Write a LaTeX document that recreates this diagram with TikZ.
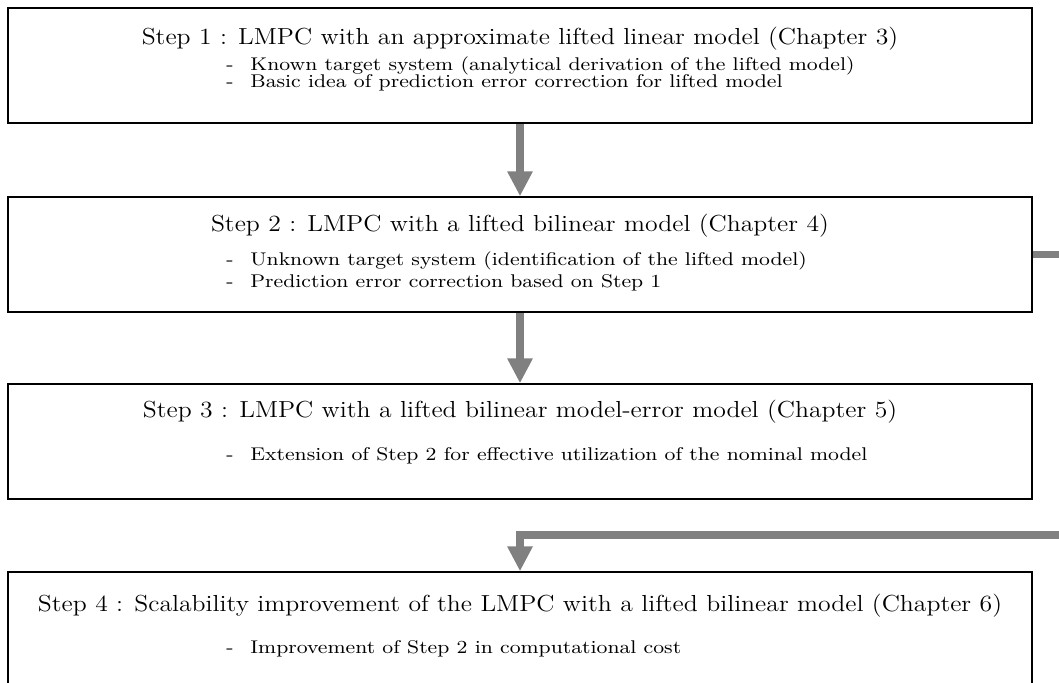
\documentclass[tikz,border=0pt]{standalone}
\usetikzlibrary{arrows.meta}
\definecolor{flowgray}{RGB}{128,128,128}
\newcommand\tfont{\fontsize{11.6}{13.5}\selectfont}
\newcommand\bfont{\fontsize{9.2}{11}\selectfont}
\newcommand\tstr[1]{\scalebox{1.108}[1]{#1}}
\newcommand\bstr[1]{\scalebox{1.148}[1]{#1}}
\begin{document}
\begin{tikzpicture}[x=0.5pt,y=-0.5pt,
  stepbox/.style={draw=black, line width=0.75pt, minimum width=512pt, minimum height=57.5pt, inner sep=0pt, fill=white},
  title/.style={anchor=base, inner sep=0pt, font=\tfont},
  dashmark/.style={anchor=base west, inner sep=0pt, font=\bfont},
  item/.style={anchor=base west, inner sep=0pt, font=\bfont},
  flow/.style={draw=flowgray, line width=3.75pt, -{Triangle[width=12pt,length=12.5pt]}, line join=miter}]
\useasboundingbox (0,0) rectangle (1059,682);
\clip (0,0) rectangle (1059,682);
% boxes
\node[stepbox] (b1) at (520,65.5) {};
\node[stepbox] (b2) at (520,254.5) {};
\node[stepbox] (b3) at (520,441.5) {};
\node[stepbox] (b4) at (520,629.5) {};
% box 1
\node[title] (t1) at (520,44) {\tstr{Step 1 : LMPC with an approximate lifted linear model (Chapter 3)}};
\node[dashmark] (d11) at (226,70) {\bstr{-}};
\node[item] (i11) at (250,70) {\bstr{Known target system (analytical derivation of the lifted model)}};
\node[dashmark] (d12) at (226,87) {\bstr{-}};
\node[item] (i12) at (250,87) {\bstr{Basic idea of prediction error correction for lifted model}};
% box 2
\node[title] (t2) at (520,231) {\tstr{Step 2 : LMPC with a lifted bilinear model (Chapter 4)}};
\node[dashmark] (d21) at (226,265) {\bstr{-}};
\node[item] (i21) at (250,265) {\bstr{Unknown target system (identification of the lifted model)}};
\node[dashmark] (d22) at (226,287) {\bstr{-}};
\node[item] (i22) at (250,287) {\bstr{Prediction error correction based on Step 1}};
% box 3
\node[title] (t3) at (520,417) {\tstr{Step 3 : LMPC with a lifted bilinear model-error model (Chapter 5)}};
\node[dashmark] (d31) at (226,460) {\bstr{-}};
\node[item] (i31) at (250,460) {\bstr{Extension of Step 2 for effective utilization of the nominal model}};
% box 4
\node[title] (t4) at (520,611) {\tstr{Step 4 : Scalability improvement of the LMPC with a lifted bilinear model (Chapter 6)}};
\node[dashmark] (d41) at (226,653) {\bstr{-}};
\node[item] (i41) at (250,653) {\bstr{Improvement of Step 2 in computational cost}};
% connectors
\coordinate (c1) at (1070,254.5);
\coordinate (c2) at (1070,535);
\draw[flow] (b1.south) -- (b2.north);
\draw[flow] (b2.south) -- (b3.north);
\draw[flow] (b2.east) -- (c1) -- (c2) -| (b4.north);
\end{tikzpicture}
\end{document}
